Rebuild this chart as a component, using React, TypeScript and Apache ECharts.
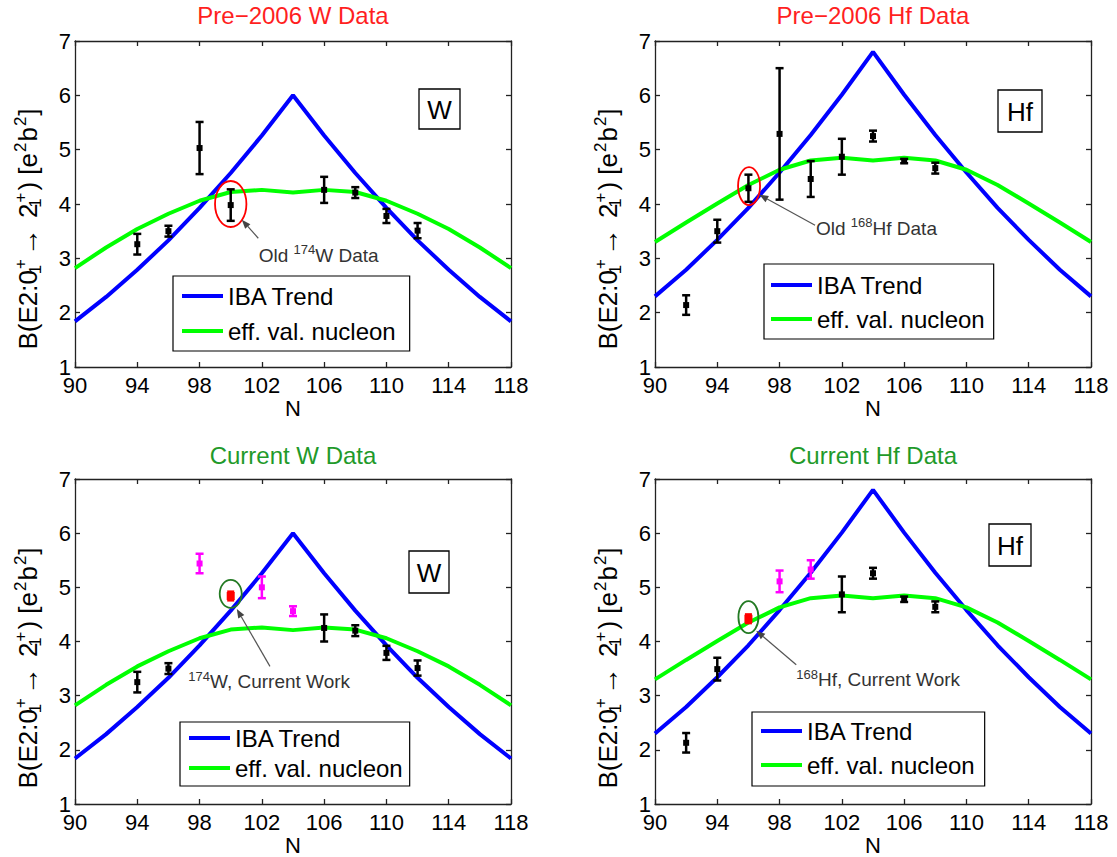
import React, { useEffect, useRef } from 'react';
import * as echarts from 'echarts';

const FONT = '"Liberation Sans", Arial, Helvetica, sans-serif';

// ---------- curves (at even N) ----------
const N_CURVE = [90, 92, 94, 96, 98, 100, 102, 104, 106, 108, 110, 112, 114, 116, 118];
const W_IBA = [1.84, 2.29, 2.79, 3.33, 3.93, 4.57, 5.26, 6.0, 5.26, 4.57, 3.93, 3.33, 2.79, 2.29, 1.84];
const W_EFF = [2.82, 3.2, 3.54, 3.82, 4.06, 4.22, 4.26, 4.21, 4.26, 4.22, 4.06, 3.82, 3.54, 3.2, 2.82];
const HF_IBA = [2.3, 2.79, 3.34, 3.93, 4.58, 5.27, 6.01, 6.8, 6.01, 5.27, 4.58, 3.93, 3.34, 2.79, 2.3];
const HF_EFF = [3.3, 3.66, 4.01, 4.35, 4.63, 4.8, 4.85, 4.8, 4.85, 4.8, 4.63, 4.35, 4.01, 3.66, 3.3];

const X_TICKS = [90, 94, 98, 102, 106, 110, 114, 118];
const LEGEND_NAMES = ['IBA Trend', 'eff. val. nucleon'];

// ---------- measured points: N, B(E2), error ----------
const W_OLD_N = [94, 96, 98, 100, 106, 108, 110, 112];
const W_OLD_B = [3.26, 3.5, 5.03, 3.98, 4.26, 4.21, 3.78, 3.51];
const W_OLD_ERR = [0.19, 0.1, 0.48, 0.29, 0.24, 0.1, 0.13, 0.14];

const HF_OLD_N = [92, 94, 96, 98, 100, 102, 104, 106, 108];
const HF_OLD_B = [2.14, 3.5, 4.29, 5.29, 4.46, 4.87, 5.25, 4.79, 4.66];
const HF_OLD_ERR = [0.18, 0.21, 0.25, 1.21, 0.33, 0.33, 0.1, 0.04, 0.1];

const W_NOW_N = [94, 96, 106, 108, 110, 112];
const W_NOW_B = [3.25, 3.5, 4.25, 4.2, 3.79, 3.51];
const W_NOW_ERR = [0.19, 0.1, 0.25, 0.1, 0.13, 0.14];
const W_NEW_N = [98, 102, 104];
const W_NEW_B = [5.44, 5.0, 4.56];
const W_NEW_ERR = [0.18, 0.2, 0.09];
const W_THIS_N = [100];
const W_THIS_B = [4.84];
const W_THIS_ERR = [0.08];

const HF_NOW_N = [92, 94, 102, 104, 106, 108];
const HF_NOW_B = [2.13, 3.49, 4.87, 5.26, 4.78, 4.64];
const HF_NOW_ERR = [0.18, 0.21, 0.33, 0.1, 0.05, 0.1];
const HF_NEW_N = [98, 100];
const HF_NEW_B = [5.11, 5.33];
const HF_NEW_ERR = [0.2, 0.17];
const HF_THIS_N = [96];
const HF_THIS_B = [4.42];
const HF_THIS_ERR = [0.08];

// ---------- annotations: ellipse centre, arrow head, arrow tail, text anchor (N, B) ----------
const NOTE_W_OLD = [[100, 4.0], [100.71, 3.71], [101.77, 3.37], [101.8, 3.06]];
const NOTE_HF_OLD = [[96.04, 4.33], [96.7, 4.17], [100.28, 3.61], [100.34, 3.55]];
const NOTE_W_NOW = [[100, 4.88], [100.39, 4.6], [102.52, 3.54], [97.28, 3.26]];
const NOTE_HF_NOW = [[96, 4.45], [96.5, 4.2], [99.07, 3.57], [99.07, 3.29]];

const TITLES = ['Pre\u22122006 W Data', 'Pre\u22122006 Hf Data', 'Current W Data', 'Current Hf Data'];
const ELEMENTS = ['W', 'Hf', 'W', 'Hf'];
const NOTE_TEXTS = [
  '{n|Old }{sp|174}{n|W Data}',
  '{n|Old }{sp|168}{n|Hf Data}',
  '{sp|174}{n|W, Current Work}',
  '{sp|168}{n|Hf, Current Work}',
];
const Y_LABEL = '{n|B(E2:0}{sb|1}{sp|+}{ar|\u2192}{n| 2}{sb|1}{sp|+}{n|) [e}{sq|2}{n|b}{sq|2}{n|]}';

// ---------- layout ----------
const GRIDS = [
  { left: 75, top: 41, width: 436, height: 326 },
  { left: 655, top: 41, width: 436, height: 326 },
  { left: 75, top: 479, width: 436, height: 325 },
  { left: 655, top: 479, width: 436, height: 325 },
];
const TITLE_POS = [[293, 15], [873, 15], [293, 455], [873, 455]];
const YLABEL_POS = [[28, 229], [608, 229], [28, 668], [608, 668]];
const BOXES = [
  { x: 419, y: 89, w: 41, h: 40 },
  { x: 998, y: 90, w: 44, h: 42 },
  { x: 409, y: 551, w: 40, h: 42 },
  { x: 989, y: 524, w: 42, h: 42 },
];
const LEGENDS = [
  { left: 173, top: 276, padding: [8, 14, 8, 9], itemGap: 11 },
  { left: 764, top: 264, padding: [9, 9, 8, 7], itemGap: 10 },
  { left: 180, top: 722, padding: [4, 7, 6, 9], itemGap: 6 },
  { left: 752, top: 712, padding: [7, 10, 9, 9], itemGap: 10 },
];
const RINGS = [
  { rx: 15.7, ry: 23, color: '#ff0000' },
  { rx: 11, ry: 19, color: '#ff0000' },
  { rx: 11, ry: 14, color: '#237a23' },
  { rx: 10, ry: 16, color: '#237a23' },
];

const BLUE = '#0000ff';
const GREEN = '#00ff00';
const MAGENTA = '#ff00ff';
const RED = '#ff0000';
const AXIS_COLOR = '#222';

function errorBars(color: string, cap: number, box: number) {
  return (_params: any, api: any) => {
    const n = api.value(0);
    const b = api.value(1);
    const e = api.value(2);
    const c = api.coord([n, b]);
    const hi = api.coord([n, b + e]);
    const lo = api.coord([n, b - e]);
    const ls = { stroke: color, lineWidth: 2.5 };
    return {
      type: 'group',
      children: [
        { type: 'line', shape: { x1: c[0], y1: hi[1], x2: c[0], y2: lo[1] }, style: ls },
        { type: 'line', shape: { x1: c[0] - cap / 2, y1: hi[1], x2: c[0] + cap / 2, y2: hi[1] }, style: ls },
        { type: 'line', shape: { x1: c[0] - cap / 2, y1: lo[1], x2: c[0] + cap / 2, y2: lo[1] }, style: ls },
        {
          type: 'rect',
          shape: { x: c[0] - box / 2, y: c[1] - box / 2, width: box, height: box },
          style: { fill: color },
        },
      ],
    };
  };
}

const noteRich = {
  n: { fontSize: 19, lineHeight: 24, fontFamily: FONT, fill: '#333' },
  sp: { fontSize: 13, lineHeight: 13, verticalAlign: 'top', fontFamily: FONT, fill: '#333' },
};

function noteRenderer(text: string, ring: { rx: number; ry: number; color: string }) {
  return (_params: any, api: any) => {
    const c = api.coord([api.value(0), api.value(1)]);
    const h = api.coord([api.value(2), api.value(3)]);
    const t = api.coord([api.value(4), api.value(5)]);
    const p = api.coord([api.value(6), api.value(7)]);
    const dx = h[0] - t[0];
    const dy = h[1] - t[1];
    const L = Math.hypot(dx, dy) || 1;
    const ux = dx / L;
    const uy = dy / L;
    const al = 9;
    const aw = 3.5;
    const bx = h[0] - ux * al;
    const by = h[1] - uy * al;
    return {
      type: 'group',
      children: [
        {
          type: 'ellipse',
          shape: { cx: c[0], cy: c[1], rx: ring.rx, ry: ring.ry },
          style: { fill: 'none', stroke: ring.color, lineWidth: 1.8 },
        },
        { type: 'line', shape: { x1: t[0], y1: t[1], x2: bx, y2: by }, style: { stroke: '#555', lineWidth: 1.2 } },
        {
          type: 'polygon',
          shape: {
            points: [
              [h[0], h[1]],
              [bx - uy * aw, by + ux * aw],
              [bx + uy * aw, by - ux * aw],
            ],
          },
          style: { fill: '#444' },
        },
        {
          type: 'text',
          x: p[0],
          y: p[1],
          style: {
            text,
            rich: noteRich,
            fontSize: 19,
            fontFamily: FONT,
            fill: '#333',
            align: 'left',
            verticalAlign: 'middle',
            textAlign: 'left',
            textVerticalAlign: 'middle',
          },
        },
      ],
    };
  };
}

type PointSet = { n: number[]; b: number[]; e: number[]; color: string; cap: number; box: number };

const PANELS: { iba: number[]; eff: number[]; sets: PointSet[]; note: number[][] }[] = [
  {
    iba: W_IBA,
    eff: W_EFF,
    sets: [{ n: W_OLD_N, b: W_OLD_B, e: W_OLD_ERR, color: '#000', cap: 8, box: 6 }],
    note: NOTE_W_OLD,
  },
  {
    iba: HF_IBA,
    eff: HF_EFF,
    sets: [{ n: HF_OLD_N, b: HF_OLD_B, e: HF_OLD_ERR, color: '#000', cap: 8, box: 6 }],
    note: NOTE_HF_OLD,
  },
  {
    iba: W_IBA,
    eff: W_EFF,
    sets: [
      { n: W_NOW_N, b: W_NOW_B, e: W_NOW_ERR, color: '#000', cap: 8, box: 6 },
      { n: W_NEW_N, b: W_NEW_B, e: W_NEW_ERR, color: MAGENTA, cap: 8, box: 6 },
      { n: W_THIS_N, b: W_THIS_B, e: W_THIS_ERR, color: RED, cap: 7, box: 8 },
    ],
    note: NOTE_W_NOW,
  },
  {
    iba: HF_IBA,
    eff: HF_EFF,
    sets: [
      { n: HF_NOW_N, b: HF_NOW_B, e: HF_NOW_ERR, color: '#000', cap: 8, box: 6 },
      { n: HF_NEW_N, b: HF_NEW_B, e: HF_NEW_ERR, color: MAGENTA, cap: 8, box: 6 },
      { n: HF_THIS_N, b: HF_THIS_B, e: HF_THIS_ERR, color: RED, cap: 7, box: 8 },
    ],
    note: NOTE_HF_NOW,
  },
];

function buildOption() {
  const axisLine = { show: true, onZero: false, lineStyle: { color: AXIS_COLOR, width: 1.3 } };
  const tick = (vals: number[] | null) => ({
    show: true,
    inside: true,
    length: 5,
    lineStyle: { color: AXIS_COLOR, width: 1.3 },
    ...(vals ? { customValues: vals } : {}),
  });

  const xAxis: any[] = [];
  const yAxis: any[] = [];
  GRIDS.forEach((_g, i) => {
    xAxis.push({
      type: 'value',
      gridIndex: i,
      min: 90,
      max: 118,
      position: 'bottom',
      axisLine,
      axisTick: tick(X_TICKS),
      axisLabel: { customValues: X_TICKS, fontSize: 22, color: '#000', margin: 7, fontFamily: FONT },
      splitLine: { show: false },
      name: 'N',
      nameLocation: 'middle',
      nameGap: 30,
      nameTextStyle: { fontSize: 22, color: '#000', fontFamily: FONT },
    });
    xAxis.push({
      type: 'value',
      gridIndex: i,
      min: 90,
      max: 118,
      position: 'top',
      axisLine,
      axisTick: tick(X_TICKS),
      axisLabel: { show: false },
      splitLine: { show: false },
    });
    yAxis.push({
      type: 'value',
      gridIndex: i,
      min: 1,
      max: 7,
      interval: 1,
      position: 'left',
      axisLine,
      axisTick: tick(null),
      axisLabel: { fontSize: 22, color: '#000', margin: 4, fontFamily: FONT },
      splitLine: { show: false },
    });
    yAxis.push({
      type: 'value',
      gridIndex: i,
      min: 1,
      max: 7,
      interval: 1,
      position: 'right',
      axisLine,
      axisTick: tick(null),
      axisLabel: { show: false },
      splitLine: { show: false },
    });
  });

  const series: any[] = [];
  PANELS.forEach((p, i) => {
    const ax = { xAxisIndex: 2 * i, yAxisIndex: 2 * i };
    series.push({
      type: 'line',
      name: LEGEND_NAMES[0],
      ...ax,
      data: N_CURVE.map((n, k) => [n, p.iba[k]]),
      symbol: 'none',
      color: BLUE,
      lineStyle: { color: BLUE, width: 4 },
      z: 2,
      silent: true,
    });
    series.push({
      type: 'line',
      name: LEGEND_NAMES[1],
      ...ax,
      data: N_CURVE.map((n, k) => [n, p.eff[k]]),
      symbol: 'none',
      color: GREEN,
      lineStyle: { color: GREEN, width: 4 },
      z: 2,
      silent: true,
    });
    p.sets.forEach((s) => {
      series.push({
        type: 'custom',
        ...ax,
        data: s.n.map((n, k) => [n, s.b[k], s.e[k]]),
        encode: { x: 0, y: 1 },
        renderItem: errorBars(s.color, s.cap, s.box),
        z: 5,
        silent: true,
      });
    });
    series.push({
      type: 'custom',
      ...ax,
      data: [p.note.flat()],
      encode: { x: 0, y: 1 },
      renderItem: noteRenderer(NOTE_TEXTS[i], RINGS[i]),
      z: 6,
      silent: true,
    });
  });

  const legend = LEGENDS.map((l) => ({
    show: true,
    orient: 'vertical',
    left: l.left,
    top: l.top,
    padding: l.padding,
    itemGap: l.itemGap,
    icon: 'rect',
    itemWidth: 41,
    itemHeight: 4,
    itemStyle: { borderWidth: 0 },
    selectedMode: false,
    data: LEGEND_NAMES,
    backgroundColor: '#fff',
    borderColor: '#000',
    borderWidth: 1.2,
    textStyle: { fontSize: 24, color: '#000', fontFamily: FONT },
  }));

  const yRich = {
    n: { fontSize: 26, lineHeight: 32, fontFamily: FONT, fill: '#000' },
    ar: { fontSize: 28, lineHeight: 32, padding: [0, 3, 0, 1], fontFamily: FONT, fill: '#000' },
    sb: { fontSize: 17, lineHeight: 15, verticalAlign: 'bottom', width: 1, fontFamily: FONT, fill: '#000' },
    sp: { fontSize: 17, lineHeight: 15, verticalAlign: 'top', padding: [0, 2, 0, 0], fontFamily: FONT, fill: '#000' },
    sq: { fontSize: 17, lineHeight: 15, verticalAlign: 'top', padding: [0, 1, 0, 1], fontFamily: FONT, fill: '#000' },
  };

  const graphic: any[] = [];
  TITLES.forEach((t, i) => {
    graphic.push({
      type: 'text',
      x: TITLE_POS[i][0],
      y: TITLE_POS[i][1],
      silent: true,
      style: {
        text: t,
        fill: i < 2 ? '#ff1f1f' : '#1f9a2a',
        fontSize: 24,
        fontFamily: FONT,
        align: 'center',
        verticalAlign: 'middle',
        textAlign: 'center',
        textVerticalAlign: 'middle',
      },
    });
    graphic.push({
      type: 'text',
      x: YLABEL_POS[i][0],
      y: YLABEL_POS[i][1],
      rotation: Math.PI / 2,
      silent: true,
      style: {
        text: Y_LABEL,
        rich: yRich,
        fontSize: 26,
        fontFamily: FONT,
        fill: '#000',
        align: 'center',
        verticalAlign: 'middle',
        textAlign: 'center',
        textVerticalAlign: 'middle',
      },
    });
    const b = BOXES[i];
    graphic.push({
      type: 'rect',
      shape: { x: b.x, y: b.y, width: b.w, height: b.h },
      style: { fill: '#fff', stroke: '#000', lineWidth: 1.3 },
      silent: true,
      z: 10,
    });
    graphic.push({
      type: 'text',
      x: b.x + b.w / 2,
      y: b.y + b.h / 2 + 1,
      silent: true,
      z: 11,
      style: {
        text: ELEMENTS[i],
        fill: '#000',
        fontSize: 26,
        fontFamily: FONT,
        align: 'center',
        verticalAlign: 'middle',
        textAlign: 'center',
        textVerticalAlign: 'middle',
      },
    });
  });

  return {
    animation: false,
    backgroundColor: '#fff',
    textStyle: { fontFamily: FONT },
    grid: GRIDS.map((g) => ({ ...g, show: false, containLabel: false, outerBoundsMode: 'none' })),
    xAxis,
    yAxis,
    legend,
    series,
    graphic,
  };
}

export default function App() {
  const ref = useRef<HTMLDivElement>(null);
  useEffect(() => {
    if (!ref.current) return;
    const chart = echarts.init(ref.current, undefined, { renderer: 'svg' });
    chart.setOption(buildOption() as any);
    return () => chart.dispose();
  }, []);
  return (
    <div
      ref={ref}
      style={{ position: 'fixed', left: 0, top: 0, width: 1117, height: 857, background: '#fff' }}
    />
  );
}
